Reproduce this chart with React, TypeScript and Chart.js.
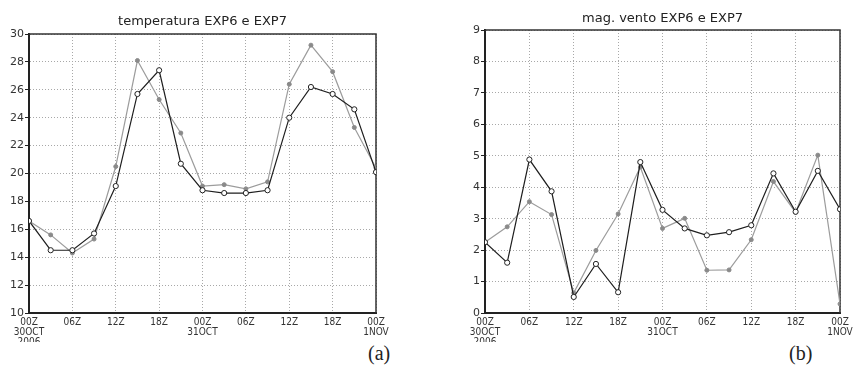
import React, { useEffect, useRef } from 'react';
import { Chart, registerables } from 'chart.js';

Chart.register(...registerables);

// ---- data ----
const hours = [0, 3, 6, 9, 12, 15, 18, 21, 24, 27, 30, 33, 36, 39, 42, 45, 48];
const tickHours = [0, 6, 12, 18, 24, 30, 36, 42, 48];
const xTickLabels = [
  ['00Z', '30OCT', '2006'],
  ['06Z'],
  ['12Z'],
  ['18Z'],
  ['00Z', '31OCT'],
  ['06Z'],
  ['12Z'],
  ['18Z'],
  ['00Z', '1NOV'],
];

const tempExp6 = [16.6, 14.5, 14.5, 15.7, 19.1, 25.7, 27.4, 20.7, 18.8, 18.6, 18.6, 18.8, 24.0, 26.2, 25.7, 24.6, 20.1];
const tempExp7 = [16.6, 15.6, 14.3, 15.3, 20.5, 28.1, 25.3, 22.9, 19.1, 19.2, 18.9, 19.4, 26.4, 29.2, 27.3, 23.3, 20.4];

const windExp6 = [2.25, 1.6, 4.88, 3.87, 0.51, 1.56, 0.66, 4.8, 3.28, 2.69, 2.47, 2.57, 2.79, 4.44, 3.22, 4.52, 3.3];
const windExp7 = [2.25, 2.74, 3.54, 3.13, 0.64, 1.99, 3.15, 4.64, 2.69, 3.01, 1.36, 1.37, 2.33, 4.18, 3.2, 5.02, 0.29];

const tempTitle = 'temperatura EXP6 e EXP7';
const windTitle = 'mag. vento EXP6 e EXP7';

const framePlugin = {
  id: 'frame',
  beforeDatasetsDraw(chart: any) {
    const { ctx, chartArea: a } = chart;
    ctx.save();
    ctx.setLineDash([]);
    ctx.strokeStyle = '#333';
    ctx.lineWidth = 1.5;
    ctx.beginPath();
    ctx.moveTo(a.left, a.top);
    ctx.lineTo(a.right, a.top);
    ctx.lineTo(a.right, a.bottom);
    ctx.stroke();
    ctx.restore();
  },
};

type PanelProps = {
  title: string;
  exp6: number[];
  exp7: number[];
  yMin: number;
  yMax: number;
  yStep: number;
  yWidth: number;
  padRight: number;
  titleTop: number;
  titleBottom: number;
};

function Panel(p: PanelProps) {
  const ref = useRef<HTMLCanvasElement>(null);
  useEffect(() => {
    if (!ref.current) return;
    const toPts = (arr: number[]) => arr.map((v, i) => ({ x: hours[i], y: v }));
    const chart = new Chart(ref.current, {
      type: 'line',
      data: {
        datasets: [
          {
            label: 'EXP6',
            data: toPts(p.exp6),
            borderColor: '#1e1e1e',
            borderWidth: 1.2,
            pointRadius: 2.6,
            pointBackgroundColor: '#ffffff',
            pointBorderColor: '#222',
            pointBorderWidth: 1,
            tension: 0,
          },
          {
            label: 'EXP7',
            data: toPts(p.exp7),
            borderColor: '#9c9c9c',
            borderWidth: 1.2,
            pointRadius: 2,
            pointBackgroundColor: '#8a8a8a',
            pointBorderColor: '#8a8a8a',
            pointBorderWidth: 1,
            tension: 0,
          },
        ],
      },
      options: {
        animation: false,
        responsive: false,
        maintainAspectRatio: false,
        layout: { padding: { left: 0, right: p.padRight, top: 0, bottom: 0 } },
        plugins: {
          legend: { display: false },
          tooltip: { enabled: false },
          title: {
            display: true,
            text: p.title,
            fullSize: false,
            color: '#222',
            font: { family: "'DejaVu Sans', sans-serif", size: 13, weight: 'normal', lineHeight: '16px' },
            padding: { top: p.titleTop, bottom: p.titleBottom },
          },
        },
        scales: {
          x: {
            type: 'linear',
            min: 0,
            max: 48,
            afterBuildTicks: (s: any) => {
              s.ticks = tickHours.map((v) => ({ value: v }));
            },
            afterFit: (s: any) => {
              s.height = 29;
              s.paddingLeft = 0;
              s.paddingRight = 0;
            },
            ticks: {
              autoSkip: false,
              maxRotation: 0,
              padding: 4,
              color: '#333',
              font: { family: "'Liberation Sans Narrow', 'DejaVu Sans Condensed', 'Liberation Sans', sans-serif", size: 10, lineHeight: '10px' },
              callback: (v: any) => {
                const i = tickHours.indexOf(Number(v));
                return i >= 0 ? xTickLabels[i] : '';
              },
            },
            grid: { color: '#a8a8a8', lineWidth: 1, drawTicks: false, tickLength: 0 },
            border: { display: true, color: '#222', width: 2, dash: [1, 2] },
          },
          y: {
            type: 'linear',
            min: p.yMin,
            max: p.yMax,
            afterFit: (s: any) => {
              s.width = p.yWidth;
              s.paddingTop = 0;
              s.paddingBottom = 0;
            },
            ticks: {
              stepSize: p.yStep,
              padding: 1,
              color: '#333',
              font: { family: "'DejaVu Sans', sans-serif", size: 11 },
            },
            grid: { color: '#a8a8a8', lineWidth: 1, drawTicks: true, tickLength: 4, tickColor: '#222', tickWidth: 1, tickBorderDash: [] },
            border: { display: true, color: '#222', width: 2, dash: [1, 2] },
          },
        },
      },
      plugins: [framePlugin],
    } as any);
    return () => chart.destroy();
  }, []);
  return <canvas ref={ref} width={427} height={342} style={{ width: 427, height: 342, display: 'block' }} />;
}

export default function App() {
  return (
    <div style={{ position: 'fixed', left: 0, top: 0, width: 854, height: 367, background: '#fff', overflow: 'hidden' }}>
      <div style={{ position: 'absolute', left: 0, top: 0 }}>
        <Panel title={tempTitle} exp6={tempExp6} exp7={tempExp7} yMin={10} yMax={30} yStep={2} yWidth={29} padRight={51} titleTop={14} titleBottom={4} />
      </div>
      <div style={{ position: 'absolute', left: 427, top: 0 }}>
        <Panel title={windTitle} exp6={windExp6} exp7={windExp7} yMin={0} yMax={9} yStep={1} yWidth={58} padRight={14} titleTop={11} titleBottom={3} />
      </div>
      <div style={{ position: 'absolute', left: 368, top: 343, fontFamily: "'Liberation Serif', serif", fontSize: 20, lineHeight: '20px', color: '#222' }}>(a)</div>
      <div style={{ position: 'absolute', left: 789, top: 343, fontFamily: "'Liberation Serif', serif", fontSize: 20, lineHeight: '20px', color: '#222' }}>(b)</div>
    </div>
  );
}
